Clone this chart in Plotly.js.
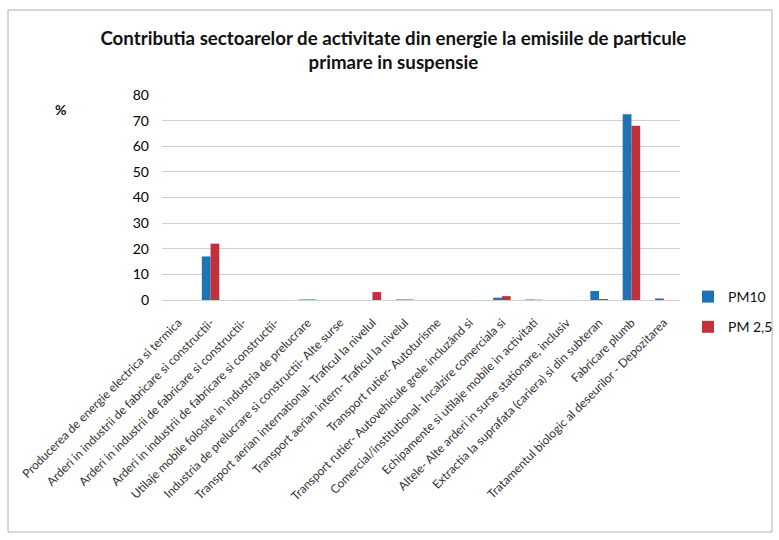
<!DOCTYPE html>
<html>
<head>
<meta charset="utf-8">
<script src="https://cdn.plot.ly/plotly-3.0.1.min.js"></script>
<style>html,body{margin:0;padding:0;background:#fff;}#chart{width:779px;height:540px;}</style>
</head>
<body>
<div id="chart"></div>
<script>
const categories = [
  "Producerea de energie electrica si termica",
  "Arderi in industrii de fabricare si constructii-",
  "Arderi in industrii de fabricare si constructii-",
  "Arderi in industrii de fabricare si constructii-",
  "Utilaje mobile folosite in industria de prelucrare",
  "Industria de prelucrare si constructii- Alte surse",
  "Transport aerian international- Traficul la nivelul",
  "Transport aerian intern- Traficul la nivelul",
  "Transport rutier- Autoturisme",
  "Transport rutier- Autovehicule grele incluzând si",
  "Comercial/institutional- Incalzire comerciala si",
  "Echipamente si utilaje mobile in activitati",
  "Altele- Alte arderi in surse stationare, inclusiv",
  "Extractia la suprafata (cariera) si din subteran",
  "Fabricare plumb",
  "Tratamentul biologic al deseurilor - Depozitarea"
];
const pm10 = [0, 17, 0, 0, 0.2, 0, 0, 0.2, 0, 0, 0.9, 0.2, 0, 3.5, 72.5, 0.6];
const pm25 = [0, 22, 0, 0, 0.2, 0, 3.1, 0.2, 0, 0, 1.5, 0.1, 0, 0.4, 68, 0];
const yTicks = [0, 10, 20, 30, 40, 50, 60, 70, 80];

const idx = categories.map((c, i) => i);

const font = "Lato, 'Open Sans', sans-serif";

const traces = [
  {type: 'bar', name: 'PM10', legendgroup: 'a', x: idx, y: pm10, marker: {color: '#1c73b6'}},
  {type: 'bar', name: 'PM 2,5', legendgroup: 'b', x: idx, y: pm25, marker: {color: '#c1303b'}}
];

const L = 162, R = 99, T = 95, B = 240, W = 779, H = 540;
const pw = W - L - R, ph = H - T - B;
const px = v => (v - L) / pw;
const py = v => (H - B - v) / ph;

const layout = {
  width: W, height: H,
  margin: {l: L, r: R, t: T, b: B, autoexpand: false},
  paper_bgcolor: '#fff', plot_bgcolor: '#fff',
  font: {family: font, color: '#222', size: 12},
  title: {
    text: '<b>Contributia sectoarelor de activitate din energie la emisiile de particule<br>primare in suspensie</b>',
    font: {family: font, size: 18.7, color: '#111'},
    x: 0.505, xref: 'container', xanchor: 'center',
    y: 1 - 45/540, yref: 'container', yanchor: 'middle'
  },
  barmode: 'group', bargap: 0.46, bargroupgap: 0,
  xaxis: {
    type: 'linear', range: [-0.5, categories.length - 0.5],
    tickmode: 'array', tickvals: idx, ticktext: categories,
    tickangle: -45, tickfont: {family: font, size: 12, color: '#333'},
    showgrid: false, zeroline: false, showline: true, linecolor: '#d0d0d0',
    automargin: false, ticks: '', ticklabelstandoff: 10
  },
  yaxis: {
    range: [0, 80], tickmode: 'array', tickvals: yTicks,
    tickfont: {family: font, size: 14, color: '#000'},
    showgrid: true, gridcolor: '#cfcfcf', zeroline: false, showline: false,
    ticks: '', ticklen: 0, ticklabelstandoff: 12, automargin: false
  },
  legend: {
    x: px(688), xanchor: 'left', y: py(281), yanchor: 'top',
    font: {family: font, size: 14, color: '#111'},
    itemwidth: 30, traceorder: 'grouped', tracegroupgap: 9, bgcolor: 'rgba(0,0,0,0)'
  },
  annotations: [
    {text: '<b>%</b>', xref: 'paper', yref: 'paper', x: px(60), y: py(110), showarrow: false,
     font: {family: font, size: 14, color: '#111'}, xanchor: 'center', yanchor: 'middle'}
  ],
  shapes: [
    {type: 'rect', xref: 'paper', yref: 'paper', x0: px(8), x1: px(772), y0: py(532), y1: py(10),
     line: {color: '#b0b0b0', width: 1}, fillcolor: 'rgba(0,0,0,0)', layer: 'below'}
  ],
  showlegend: true
};

Plotly.newPlot('chart', traces, layout, {displayModeBar: false, staticPlot: true});
</script>
</body>
</html>
